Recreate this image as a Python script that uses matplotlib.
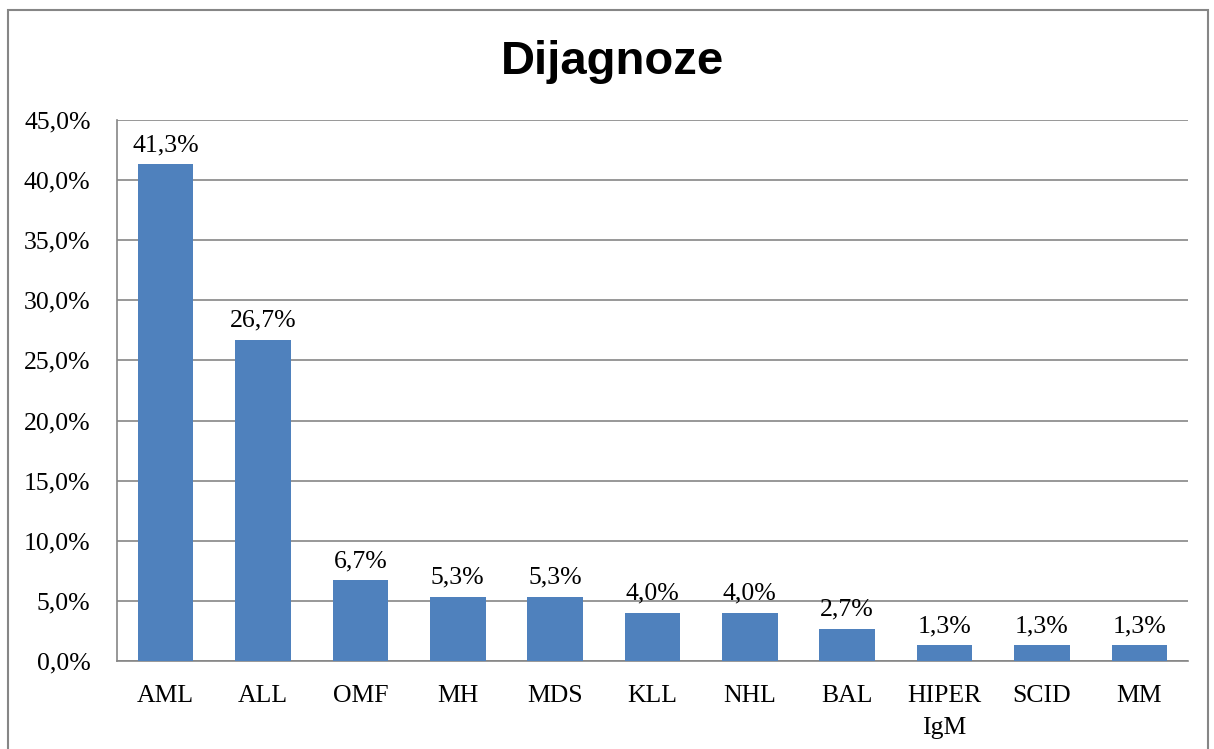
import matplotlib
matplotlib.use("Agg")
import matplotlib.pyplot as plt
from matplotlib.patches import Rectangle

categories = ["AML", "ALL", "OMF", "MH", "MDS", "KLL", "NHL", "BAL", "HIPER\nIgM", "SCID", "MM"]
values = [41.3, 26.7, 6.7, 5.3, 5.3, 4.0, 4.0, 2.7, 1.3, 1.3, 1.3]
yticks = [0, 5, 10, 15, 20, 25, 30, 35, 40, 45]

serif = "Liberation Serif"
grey = "#868686"

fig = plt.figure(figsize=(12.14, 7.49), dpi=100)
ax = fig.add_axes([117 / 1214, 1 - 661 / 749, (1188 - 117) / 1214, (661 - 120) / 749])

x = range(len(categories))
ax.bar(x, values, width=0.57, color="#4F81BD", zorder=3)

for xi, v in zip(x, values):
    ax.text(xi, v + 0.7, f"{v:.1f}%".replace(".", ","), ha="center", va="bottom",
            fontsize=18.5, family=serif)

ax.set_xlim(-0.5, len(categories) - 0.5)
ax.set_ylim(0, 45)
ax.set_yticks(yticks)
ax.set_yticklabels([f"{t:.1f}%".replace(".", ",") for t in yticks], fontsize=18.5, family=serif)
ax.set_xticks(list(x))
ax.set_xticklabels(categories, fontsize=18.5, family=serif, linespacing=1.6)
ax.tick_params(length=0)
ax.tick_params(axis="x", pad=17)
ax.tick_params(axis="y", pad=19)
ax.grid(axis="y", color=grey, linewidth=1.2, zorder=0)
for s in ["top", "right"]:
    ax.spines[s].set_visible(False)
for s in ["left", "bottom"]:
    ax.spines[s].set_color(grey)
    ax.spines[s].set_linewidth(1.2)

fig.text(612 / 1214, 1 - 62 / 749, "Dijagnoze", ha="center", va="center",
         fontsize=34, fontweight="bold", family="Liberation Sans")

# outer chart frame
fig.patches.append(Rectangle((8 / 1214, -0.1), 1200 / 1214, 1.1 - 10 / 749,
                             transform=fig.transFigure, fill=False,
                             edgecolor=grey, linewidth=1.5))

fig.savefig("out.png", dpi=100)
